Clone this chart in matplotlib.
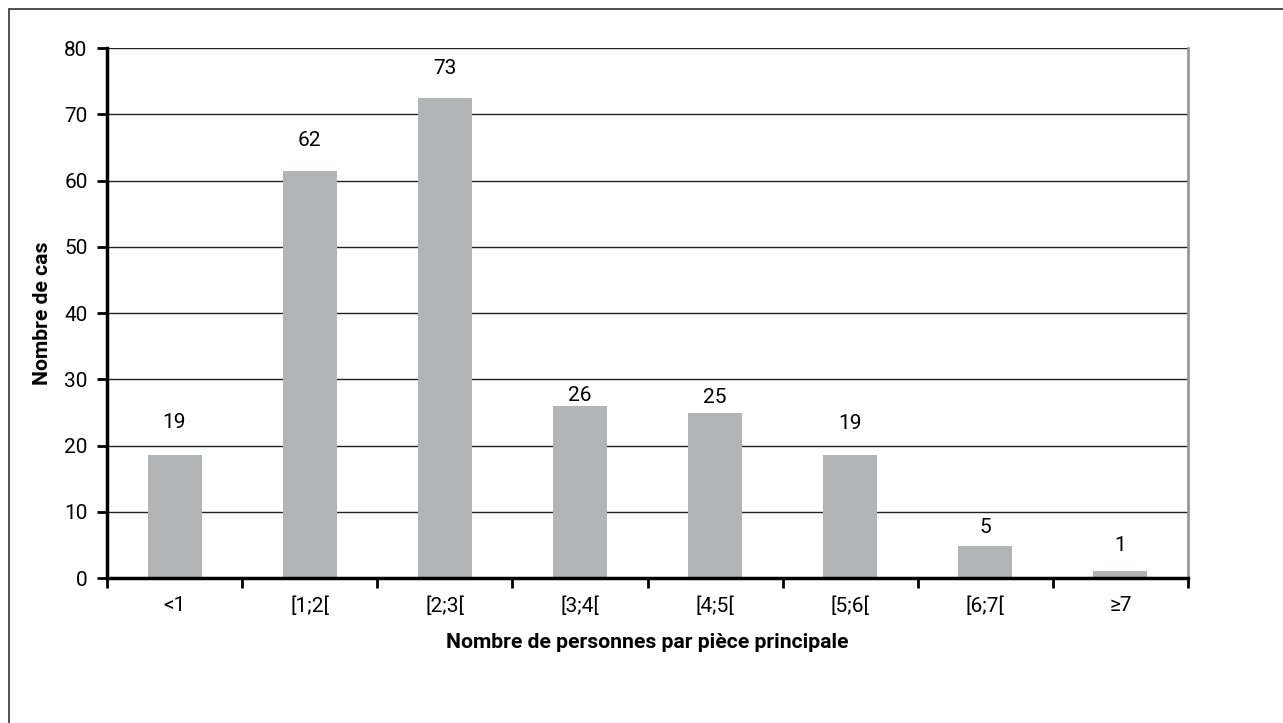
import matplotlib
matplotlib.use("Agg")
import matplotlib.pyplot as plt
from matplotlib.patches import Rectangle

categories = ["<1", "[1;2[", "[2;3[", "[3;4[", "[4;5[", "[5;6[", "[6;7[", "≥7"]
values = [18.6, 61.5, 72.5, 25.9, 24.9, 18.6, 4.9, 1.0]
labels = ["19", "62", "73", "26", "25", "19", "5", "1"]
y_ticks = [0, 10, 20, 30, 40, 50, 60, 70, 80]
x_title = "Nombre de personnes par pièce principale"
y_title = "Nombre de cas"

# label offsets above bar tops, in points (layout)
label_offsets = [23, 21.6, 21, 8, 11.5, 22.3, 13, 18.7]

plt.rcParams['font.family'] = ['Roboto', 'DejaVu Sans']

W, H = 1283, 723
fig = plt.figure(figsize=(W / 100, H / 100), dpi=100)
ax = fig.add_axes([107 / W, 1 - 578 / H, (1188 - 107) / W, (578 - 48) / H])

x = list(range(len(categories)))
bars = ax.bar(x, values, width=0.4, color="#b3b4b6", zorder=2)

ax.set_xlim(-0.5, len(categories) - 0.5)
ax.set_ylim(0, 80)
ax.set_yticks(y_ticks)
ax.set_yticklabels([str(t) for t in y_ticks], fontsize=15)
ax.yaxis.grid(True, color="#222222", linewidth=1.0, zorder=1)
ax.set_axisbelow(True)

ax.set_xticks([i - 0.5 for i in range(len(categories) + 1)])
ax.set_xticklabels([])
ax.set_xticks(x, minor=True)
ax.set_xticklabels(categories, minor=True, fontsize=15)
ax.tick_params(axis="x", which="major", direction="out", length=7, width=2, color="black")
ax.tick_params(axis="x", which="minor", length=0, pad=13)
ax.tick_params(axis="y", direction="out", length=7, width=2, color="black", pad=7)

for s in ["left", "bottom"]:
    ax.spines[s].set_linewidth(2.5)
    ax.spines[s].set_color("black")
ax.spines["top"].set_visible(False)
ax.spines["right"].set_color("#999999")
ax.spines["right"].set_linewidth(2)

for b, lab, off in zip(bars, labels, label_offsets):
    ax.annotate(lab, (b.get_x() + b.get_width() / 2, b.get_height()),
                xytext=(0, off), textcoords="offset points",
                ha="center", va="center", fontsize=15)

ax.set_xlabel(x_title, fontsize=15.2, fontweight="bold")
ax.xaxis.set_label_coords(0.5, -(643 - 578) / (578 - 48))
ax.xaxis.label.set_va("center")
ax.set_ylabel(y_title, fontsize=15.2, fontweight="bold")
ax.yaxis.set_label_coords(-(107 - 42) / (1188 - 107), 0.5)
ax.yaxis.label.set_va("center")

fig.patches.append(Rectangle((9 / W, -0.1), 1.2, 1.1 - 9 / H, transform=fig.transFigure,
                             fill=False, edgecolor="#333333", linewidth=1.2))

fig.savefig("out.png", dpi=100)
